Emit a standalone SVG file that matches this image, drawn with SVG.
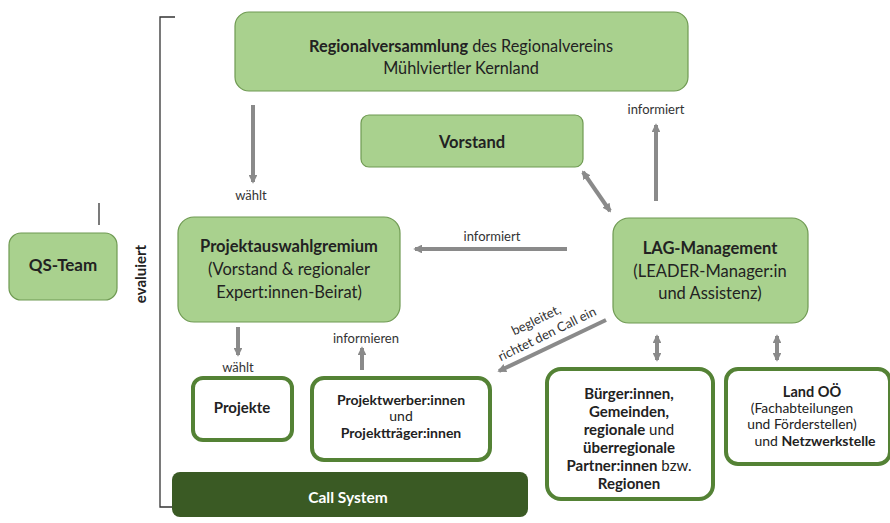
<svg xmlns="http://www.w3.org/2000/svg" width="890" height="523" viewBox="0 0 890 523">
<style>
.lg{fill:#a9d18e;stroke:#6f9a52;stroke-width:1.2}
.wb{fill:#ffffff;stroke:#548235;stroke-width:4}
.t{font-family:Lato,"Open Sans","Liberation Sans",sans-serif;fill:#222;text-anchor:middle}
.b{font-weight:bold}
.lbl{font-family:Lato,"Open Sans","Liberation Sans",sans-serif;fill:#333;font-size:13px;text-anchor:middle}
.ar{stroke:#8a8a8a;stroke-width:4;fill:none}
</style>
<defs>
<marker id="ah" viewBox="0 0 10 10" refX="8" refY="5" markerWidth="2.2" markerHeight="2.2" orient="auto-start-reverse" markerUnits="strokeWidth">
<path d="M0,0 L10,5 L0,10 z" fill="#8a8a8a"/>
</marker>
</defs>
<rect width="890" height="523" fill="#ffffff"/>
<g id="bracket" fill="none" stroke="#333" stroke-width="1.3">
<polyline points="175,17 160,17 160,507 172,507"/>
<line x1="99" y1="203" x2="99" y2="225"/>
</g>
<g id="regionalversammlung">
<rect class="lg" x="235" y="12" width="453" height="79" rx="14"/>
<text class="t" x="461" y="52" font-size="16.3"><tspan class="b">Regionalversammlung</tspan> des Regionalvereins</text>
<text class="t" x="461" y="74" font-size="16.3">Mühlviertler Kernland</text>
</g>
<g id="vorstand">
<rect class="lg" x="361" y="115" width="222" height="52" rx="8"/>
<text class="t b" x="472" y="148" font-size="16.5">Vorstand</text>
</g>
<g id="qs-team">
<rect class="lg" x="9" y="233" width="108" height="67" rx="12"/>
<text class="t b" x="63" y="271" font-size="17">QS-Team</text>
</g>
<g id="evaluiert">
<text class="t b" transform="translate(146,274) rotate(-90)" font-size="15">evaluiert</text>
</g>
<g id="projektauswahlgremium">
<rect class="lg" x="178" y="217" width="222" height="105" rx="16"/>
<text class="t b" x="289" y="252" font-size="16.5">Projektauswahlgremium</text>
<text class="t" x="289" y="275" font-size="16.5">(Vorstand &amp; regionaler</text>
<text class="t" x="289" y="298" font-size="16.5">Expert:innen-Beirat)</text>
</g>
<g id="lag-management">
<rect class="lg" x="613" y="218" width="195" height="105" rx="16"/>
<text class="t b" x="710" y="254" font-size="16.5">LAG-Management</text>
<text class="t" x="710" y="277" font-size="16.5">(LEADER-Manager:in</text>
<text class="t" x="710" y="299" font-size="16.5">und Assistenz)</text>
</g>
<g id="projekte">
<rect class="wb" x="193" y="378" width="99" height="62" rx="10"/>
<text class="t b" x="242" y="413" font-size="15">Projekte</text>
</g>
<g id="projektwerber">
<rect class="wb" x="312" y="378" width="178" height="82" rx="12"/>
<text class="t b" x="401" y="405" font-size="14">Projektwerber:innen</text>
<text class="t" x="401" y="421" font-size="14">und</text>
<text class="t b" x="401" y="438" font-size="14">Projektträger:innen</text>
</g>
<g id="buerger">
<rect class="wb" x="547" y="369" width="166" height="130" rx="14"/>
<text class="t b" x="629" y="399" font-size="15">Bürger:innen,</text>
<text class="t b" x="629" y="417" font-size="15">Gemeinden,</text>
<text class="t" x="629" y="435" font-size="15"><tspan class="b">regionale</tspan> und</text>
<text class="t b" x="629" y="453" font-size="15">überregionale</text>
<text class="t" x="629" y="471" font-size="15"><tspan class="b">Partner:innen</tspan> bzw.</text>
<text class="t b" x="629" y="489" font-size="15">Regionen</text>
</g>
<g id="land-ooe">
<rect class="wb" x="726" y="369" width="164" height="95" rx="12"/>
<text class="t b" x="812" y="397" font-size="14.5">Land OÖ</text>
<text class="t" x="802" y="413" font-size="13.8">(Fachabteilungen</text>
<text class="t" x="802" y="429" font-size="13.8">und Förderstellen)</text>
<text class="t" x="815" y="446" font-size="14">und <tspan class="b">Netzwerkstelle</tspan></text>
</g>
<g id="call-system">
<rect x="172" y="472" width="356" height="45" rx="8" fill="#3a5a24"/>
<text class="t b" x="348" y="503" font-size="15.5" style="fill:#ffffff">Call System</text>
</g>
<g id="connectors">
<line class="ar" x1="253" y1="105" x2="253" y2="182" marker-end="url(#ah)"/>
<line class="ar" x1="656" y1="201" x2="656" y2="125" marker-end="url(#ah)"/>
<line class="ar" x1="583" y1="172" x2="610" y2="211" marker-start="url(#ah)" marker-end="url(#ah)"/>
<line class="ar" x1="567" y1="249" x2="415" y2="249" marker-end="url(#ah)"/>
<line class="ar" x1="238" y1="327" x2="238" y2="355" marker-end="url(#ah)"/>
<line class="ar" x1="362" y1="370" x2="362" y2="348" marker-end="url(#ah)"/>
<line class="ar" x1="606" y1="320" x2="499" y2="371" marker-end="url(#ah)"/>
<line class="ar" x1="657" y1="336" x2="657" y2="360" stroke-width="3" marker-start="url(#ah)" marker-end="url(#ah)"/>
<line class="ar" x1="777" y1="336" x2="777" y2="360" stroke-width="3" marker-start="url(#ah)" marker-end="url(#ah)"/>
</g>
<g id="labels">
<text class="lbl" x="251" y="200">wählt</text>
<text class="lbl" x="656" y="114">informiert</text>
<text class="lbl" x="492" y="241">informiert</text>
<text class="lbl" x="238" y="372">wählt</text>
<text class="lbl" x="366" y="343">informieren</text>
<text class="lbl" transform="translate(538,324) rotate(-26)">begleitet,</text>
<text class="lbl" transform="translate(549,338) rotate(-26)">richtet den Call ein</text>
</g>
</svg>
